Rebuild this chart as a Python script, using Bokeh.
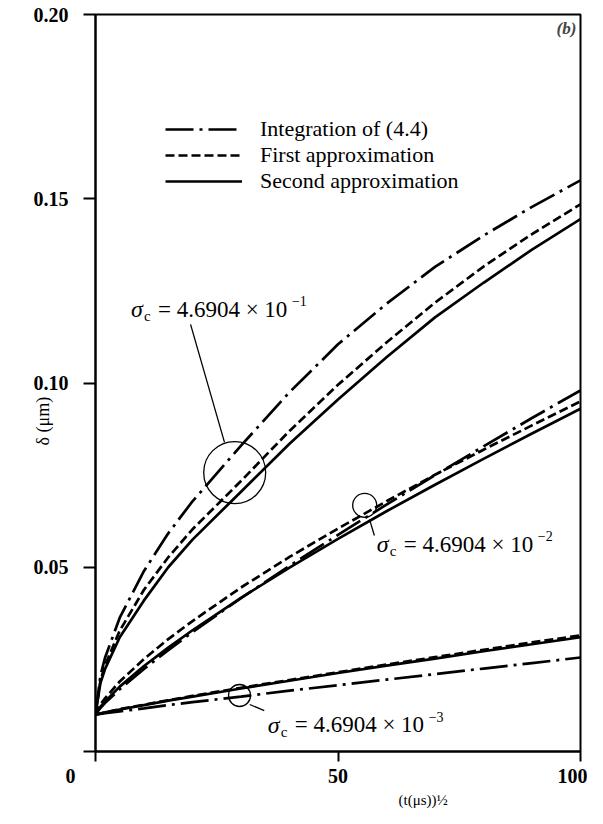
from bokeh.plotting import figure
from bokeh.models import Legend, LegendItem, Label, FixedTicker, Range1d, PrintfTickFormatter, Title
from bokeh.embed import file_html
from bokeh.resources import INLINE

# ---- data ----
t = [0, 1, 2, 5, 10, 15, 20, 30, 40, 50, 60, 70, 80, 90, 100]

# sigma_c = 4.6904e-1
g1_integration = [0.010, 0.0205, 0.0256, 0.0363, 0.0490, 0.0592, 0.0679, 0.0830, 0.0975, 0.1105, 0.1215, 0.1315, 0.1400, 0.1478, 0.155]
g1_first = [0.010, 0.0191, 0.0235, 0.0328, 0.0439, 0.0527, 0.0603, 0.0734, 0.0870, 0.0995, 0.1110, 0.1218, 0.1316, 0.1404, 0.1485]
g1_second = [0.010, 0.0185, 0.0225, 0.0310, 0.0410, 0.0500, 0.0575, 0.0705, 0.0835, 0.0955, 0.1070, 0.1178, 0.1272, 0.1362, 0.1445]

# sigma_c = 4.6904e-2
g2_integration = [0.010, 0.0118, 0.0132, 0.0169, 0.0224, 0.0275, 0.0324, 0.0416, 0.0504, 0.0588, 0.0670, 0.0750, 0.0828, 0.0905, 0.098]
g2_first = [0.010, 0.0127, 0.0145, 0.0190, 0.0251, 0.0305, 0.0354, 0.0445, 0.0528, 0.0605, 0.0679, 0.0751, 0.0819, 0.0885, 0.095]
g2_second = [0.010, 0.0121, 0.0136, 0.0176, 0.0232, 0.0282, 0.0329, 0.0417, 0.0499, 0.0577, 0.0652, 0.0724, 0.0794, 0.0863, 0.093]

# sigma_c = 4.6904e-3
g3_integration = [0.010, 0.0102, 0.0104, 0.0109, 0.0117, 0.0126, 0.0134, 0.0149, 0.0165, 0.0180, 0.0195, 0.0210, 0.0225, 0.0240, 0.0255]
g3_first = [0.010, 0.0103, 0.0106, 0.0115, 0.0127, 0.0139, 0.0151, 0.0173, 0.0194, 0.0215, 0.0236, 0.0256, 0.0276, 0.0296, 0.0315]
g3_second = [0.010, 0.0103, 0.0106, 0.0114, 0.0126, 0.0138, 0.0149, 0.0171, 0.0192, 0.0213, 0.0233, 0.0252, 0.0272, 0.0291, 0.031]

x_ticks = [0, 50, 100]
y_ticks = [0, 0.05, 0.10, 0.15, 0.20]

legend_labels = ["Integration of (4.4)", "First approximation", "Second approximation"]

# annotations: circle centres (t, delta), leader lines, sigma labels
circle_t = [28.7, 55.5, 29.7]
circle_d = [0.0757, 0.0668, 0.0152]
circle_px = [62, 24, 22]
leader_t0 = [26.6, 56.5, 31.8]
leader_d0 = [0.0839, 0.0630, 0.01275]
leader_t1 = [19.6, 57.5, 34.8]
leader_d1 = [0.1159, 0.0586, 0.0111]
sigma_t = [7.3, 58.0, 35.5]
sigma_d = [0.1200, 0.0562, 0.0072]
sigma_mant = "= 4.6904 × 10"
sigma_exp = ["−1", "−2", "−3"]

SERIF = "Liberation Serif"
DD = "28 6 3 6"
DA = "9 4"
LW = 2.7
NBSP = "\u00a0"

p = figure(width=587, height=808, output_backend="svg", toolbar_location=None,
           x_range=Range1d(0, 100), y_range=Range1d(0, 0.20),
           min_border_left=95, min_border_right=7, min_border_top=14, min_border_bottom=57)
p.grid.visible = False
p.background_fill_color = "white"
p.border_fill_color = "white"
p.outline_line_color = "black"
p.outline_line_width = 2

for ax in (p.xaxis[0], p.yaxis[0]):
    ax.axis_line_width = 2
    ax.major_tick_line_width = 2
    ax.major_tick_in = 0
    ax.major_tick_out = 12
    ax.minor_tick_out = 0
    ax.minor_tick_in = 0
    ax.major_label_text_font = SERIF
    ax.major_label_text_font_style = "bold"
    ax.major_label_text_font_size = "20px"
    ax.major_label_text_color = "black"
    ax.axis_line_color = "black"
    ax.major_tick_line_color = "black"

p.xaxis.ticker = FixedTicker(ticks=x_ticks)
p.xaxis.major_label_overrides = {0: "0" + NBSP * 10}
p.xaxis.major_tick_out = 10
p.xaxis.major_label_standoff = 3
p.yaxis.ticker = FixedTicker(ticks=y_ticks)
p.yaxis.formatter = PrintfTickFormatter(format="%.2f")
p.yaxis.major_label_overrides = {0: ""}
p.yaxis.major_label_standoff = 15

def curves(ys, dash):
    return p.line(t, ys, line_color="black", line_width=LW, line_dash=dash)

r_int = curves(g1_integration, DD)
r_first = curves(g1_first, DA)
r_second = curves(g1_second, "solid")
for ys, d in ((g2_integration, DD), (g2_first, DA), (g2_second, "solid"),
              (g3_integration, DD), (g3_first, DA), (g3_second, "solid")):
    curves(ys, d)

legend = Legend(items=[LegendItem(label=legend_labels[0], renderers=[r_int]),
                       LegendItem(label=legend_labels[1], renderers=[r_first]),
                       LegendItem(label=legend_labels[2], renderers=[r_second])],
                location=(70, 557), padding=0, margin=0, spacing=0,
                glyph_width=77, glyph_height=22, label_height=22, label_standoff=18,
                border_line_color=None, background_fill_alpha=0,
                label_text_font=SERIF, label_text_font_size="22px", label_text_color="black")
p.add_layout(legend)

# circles and leader lines
p.scatter(circle_t, circle_d, size=circle_px, marker="circle", fill_color=None,
          line_color="black", line_width=1.3)
p.segment(leader_t0, leader_d0, leader_t1, leader_d1, line_color="black", line_width=1.3)

for i in range(3):
    common = dict(x=sigma_t[i], y=sigma_d[i], text_baseline="middle", text_color="black", text_font=SERIF)
    p.add_layout(Label(text="σ", text_font_style="italic", text_font_size="24px", **common))
    p.add_layout(Label(text="c", text_font_size="15px", x_offset=13, y_offset=-7, **common))
    p.add_layout(Label(text=sigma_mant, text_font_size="23px", x_offset=27, **common))
    p.add_layout(Label(text=sigma_exp[i], text_font_size="14px", x_offset=161, y_offset=8, **common))

# panel tag
p.add_layout(Label(x=471, y=723, x_units="screen", y_units="screen", text="(b)",
                   text_font=SERIF, text_font_style="bold italic", text_font_size="17px",
                   text_align="center", text_baseline="middle"))

# axis titles
p.add_layout(Title(text="δ (μm)", align="left", offset=306, standoff=-45, text_color="black",
                   text_font=SERIF, text_font_style="normal", text_font_size="18px"), "left")
p.add_layout(Title(text="(t(μs))½", align="left", offset=303, standoff=0, text_color="black",
                   text_font=SERIF, text_font_style="normal", text_font_size="15px"), "below")

open("out.html", "w").write(file_html(p, INLINE))
